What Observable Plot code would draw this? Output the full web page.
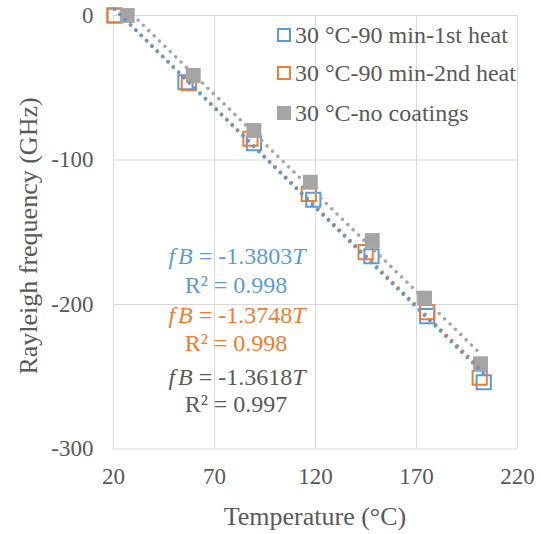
<!DOCTYPE html>
<html><head><meta charset="utf-8">
<script src="https://cdn.jsdelivr.net/npm/d3@7"></script>
<script src="https://cdn.jsdelivr.net/npm/@observablehq/plot@0.6"></script>
<style>
body{margin:0;background:#fff;}
#wrap{position:relative;width:541px;height:534px;font-family:'Liberation Serif';color:#595959;}
#wrap svg{position:absolute;left:0;top:0;}
#wrap svg text{font-family:'Liberation Serif';}
.abs{position:absolute;white-space:nowrap;font-family:'Liberation Serif';}
.eq{font-size:24px;line-height:28px;text-align:center;width:240px;}
.leg{font-size:24px;line-height:28px;}
.sq{position:absolute;box-sizing:border-box;width:14px;height:14px;}
</style></head><body><div id="wrap"></div>
<script>
const seriesNames = ["30 °C-90 min-1st heat", "30 °C-90 min-2nd heat", "30 °C-no coatings"];
const seriesColors = ["#5B9BD5", "#ED7D31", "#A5A5A5"];
const tempBlue = [20.5, 55.6, 89.5, 118.9, 147.7, 175.3, 203.3];
const freqBlue = [0, -46.2, -88.4, -127.5, -166.6, -208.1, -253.8];
const tempOrange = [20.5, 57.3, 87.8, 116.7, 144.8, 175.3, 201.3];
const freqOrange = [0, -46.9, -85.3, -123.4, -163.8, -205.3, -250.7];
const tempGray = [26.8, 59.5, 89.5, 117.5, 148.1, 174.0, 201.7];
const freqGray = [0, -41.5, -79.6, -115.4, -155.7, -195.6, -241.0];
const slopes = [-1.3803, -1.3748, -1.3618];
const r2Values = ["0.998", "0.998", "0.997"];
const xTicks = [20, 70, 120, 170, 220];
const yTicks = [-300, -200, -100, 0];
const xTitle = "Temperature (°C)";
const yTitle = "Rayleigh frequency (GHz)";

const temps = [tempBlue, tempOrange, tempGray];
const freqs = [freqBlue, freqOrange, freqGray];
const points = temps.map((ts, s) => ts.map((t, i) => ({T: t, f: freqs[s][i], s})));
// trend line with the reported slope, intercept by least squares for that slope
const trends = temps.map((ts, s) => {
  const mT = d3.mean(ts), mF = d3.mean(freqs[s]);
  const b = mF - slopes[s] * mT;
  const t0 = d3.min(ts), t1 = d3.max(ts);
  return [{T: t0, f: slopes[s] * t0 + b}, {T: t1, f: slopes[s] * t1 + b}];
});

const dotted = {strokeWidth: 3.5, strokeDasharray: "0.01 7.5", strokeLinecap: "round"};
const plot = Plot.plot({
  width: 541, height: 534,
  marginLeft: 113, marginRight: 24, marginTop: 15, marginBottom: 85.5,
  x: {domain: [20, 220]},
  y: {domain: [-300, 0]},
  style: {fontFamily: "'Liberation Serif'", fontSize: "23px", color: "#595959", background: "transparent", overflow: "visible"},
  marks: [
    Plot.gridX(xTicks, {stroke: "#D9D9D9", strokeOpacity: 1, strokeWidth: 1}),
    Plot.gridY(yTicks, {stroke: "#D9D9D9", strokeOpacity: 1, strokeWidth: 1}),
    Plot.axisX(xTicks, {tickSize: 0, tickPadding: 19, label: null, tickFormat: d => String(d)}),
    Plot.axisY(yTicks, {tickSize: 0, tickPadding: 20, label: null, tickFormat: d => String(d)}),
    Plot.dot(points[0], {x: "T", y: "f", symbol: "square", r: 8, stroke: seriesColors[0], strokeWidth: 2, fill: "none"}),
    Plot.dot(points[1], {x: "T", y: "f", symbol: "square", r: 8, stroke: seriesColors[1], strokeWidth: 2, fill: "none"}),
    Plot.dot(points[2], {x: "T", y: "f", symbol: "square", r: 8.4, fill: seriesColors[2], stroke: "none"}),
    Plot.line(trends[2], {x: "T", y: "f", stroke: seriesColors[2], ...dotted}),
    Plot.line(trends[1], {x: "T", y: "f", stroke: seriesColors[1], ...dotted}),
    Plot.line(trends[0], {x: "T", y: "f", stroke: seriesColors[0], ...dotted})
  ]
});
const wrap = document.getElementById("wrap");
wrap.appendChild(plot);

function add(html, cls, style) {
  const d = document.createElement("div");
  d.className = "abs " + cls;
  d.innerHTML = html;
  Object.assign(d.style, style);
  wrap.appendChild(d);
  return d;
}
// axis titles
add(xTitle, "", {fontSize: "26px", lineHeight: "30px", left: "115px", width: "400px", textAlign: "center", top: "502px"});
add(yTitle, "", {fontSize: "26px", lineHeight: "30px", left: "29px", top: "236px", width: "400px", textAlign: "center",
  transform: "translate(-50%,-50%) rotate(-90deg)"});

// legend
const legendRows = [35, 73, 113];
seriesNames.forEach((name, i) => {
  const sq = document.createElement("div");
  sq.className = "sq";
  Object.assign(sq.style, {left: (283.5 - 7) + "px", top: (legendRows[i] - 7) + "px"});
  if (i < 2) sq.style.border = "2px solid " + seriesColors[i];
  else sq.style.background = seriesColors[i];
  wrap.appendChild(sq);
  add(name, "leg", {left: "295px", top: (legendRows[i] - 14) + "px"});
});

// equations
const eqRows = [[256, 285], [315, 343], [377, 404]];
slopes.forEach((m, i) => {
  const col = i < 2 ? seriesColors[i] : "#595959";
  add(`<i>f</i><i style="margin-left:3px">B</i> = ${m.toFixed(4)}<i>T</i>`, "eq", {left: (237 - 120) + "px", top: (eqRows[i][0] - 14) + "px", color: col});
  add(`R² = ${r2Values[i]}`, "eq", {left: (236 - 120) + "px", top: (eqRows[i][1] - 14) + "px", color: col});
});
</script></body></html>
